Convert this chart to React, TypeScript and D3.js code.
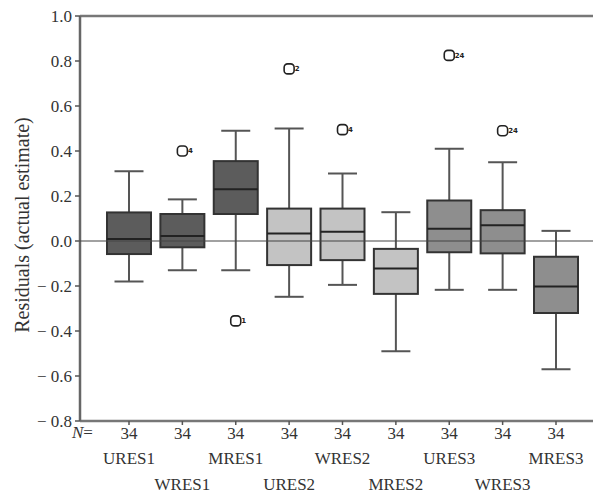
import React from "react";
import * as d3 from "d3";

const categories = ["URES1", "WRES1", "MRES1", "URES2", "WRES2", "MRES2", "URES3", "WRES3", "MRES3"];
const counts = [34, 34, 34, 34, 34, 34, 34, 34, 34];
const lowerWhisker = [-0.18, -0.13, -0.13, -0.248, -0.195, -0.49, -0.217, -0.217, -0.57];
const q1 = [-0.058, -0.028, 0.12, -0.107, -0.085, -0.235, -0.05, -0.055, -0.32];
const medians = [0.009, 0.022, 0.23, 0.033, 0.041, -0.122, 0.055, 0.07, -0.202];
const q3 = [0.127, 0.12, 0.355, 0.144, 0.144, -0.035, 0.18, 0.137, -0.07];
const upperWhisker = [0.31, 0.185, 0.49, 0.5, 0.3, 0.128, 0.41, 0.35, 0.045];
const groupIndex = [0, 0, 0, 1, 1, 1, 2, 2, 2];
const groupFills = ["#5c5c5c", "#c3c3c3", "#8e8e8e"];
const outlierCat = ["WRES1", "MRES1", "URES2", "WRES2", "URES3", "WRES3"];
const outlierVal = [0.4, -0.355, 0.765, 0.495, 0.825, 0.49];
const outlierLabel = ["4", "1", "2", "4", "24", "24"];
const yTicks = [1.0, 0.8, 0.6, 0.4, 0.2, 0.0, -0.2, -0.4, -0.6, -0.8];

const W = 593;
const H = 495;
const left = 80;
const right = 593;
const top = 16;
const bottom = 421;
const font = "'Liberation Serif', 'Times New Roman', serif";

export default function App() {
  const y = d3.scaleLinear().domain([-0.8, 1.0]).range([bottom, top]);
  const x = d3.scalePoint<string>().domain(categories).range([129, 556]);
  const boxW = 44;
  const capW = 29;
  const fmt = (v: number) => (v < 0 ? "\u2212 " + d3.format(".1f")(-v) : d3.format(".1f")(v));

  return (
    <svg width={W} height={H} style={{ position: "absolute", left: 0, top: 0, background: "#fff" }}>
      {/* frame lines */}
      <line x1={left} x2={right} y1={top} y2={top} stroke="#777" strokeWidth={2.5} />
      <line x1={left} x2={right} y1={bottom} y2={bottom} stroke="#777" strokeWidth={2.5} />
      <line x1={left} x2={left} y1={top} y2={bottom} stroke="#666" strokeWidth={2.5} />
      {/* y ticks */}
      {yTicks.map((t) => (
        <g key={t}>
          <line x1={left - 5} x2={left} y1={y(t)} y2={y(t)} stroke="#555" strokeWidth={1.5} />
          <text x={72} y={y(t)} dy="0.35em" textAnchor="end" fontFamily={font} fontSize={17} fill="#333">
            {fmt(t)}
          </text>
        </g>
      ))}
      <text
        transform={`translate(22,${225}) rotate(-90)`}
        textAnchor="middle"
        dy="0.35em"
        fontFamily={font}
        fontSize={20}
        fill="#333"
      >
        Residuals (actual estimate)
      </text>
      {/* boxes */}
      {categories.map((c, i) => {
        const cx = x(c)!;
        return (
          <g key={c}>
            <line x1={cx} x2={cx} y1={y(upperWhisker[i])} y2={y(q3[i])} stroke="#555" strokeWidth={2} />
            <line x1={cx} x2={cx} y1={y(q1[i])} y2={y(lowerWhisker[i])} stroke="#555" strokeWidth={2} />
            <line x1={cx - capW / 2} x2={cx + capW / 2} y1={y(upperWhisker[i])} y2={y(upperWhisker[i])} stroke="#555" strokeWidth={2} />
            <line x1={cx - capW / 2} x2={cx + capW / 2} y1={y(lowerWhisker[i])} y2={y(lowerWhisker[i])} stroke="#555" strokeWidth={2} />
            <rect
              x={cx - boxW / 2}
              y={y(q3[i])}
              width={boxW}
              height={y(q1[i]) - y(q3[i])}
              fill={groupFills[groupIndex[i]]}
              stroke="#333"
              strokeWidth={2}
            />
            <line x1={cx - boxW / 2} x2={cx + boxW / 2} y1={y(medians[i])} y2={y(medians[i])} stroke="#222" strokeWidth={2} />
          </g>
        );
      })}
      {/* zero line */}
      <line x1={left} x2={right} y1={y(0)} y2={y(0)} stroke="#444" strokeWidth={1.2} />
      {/* outliers */}
      {outlierCat.map((c, i) => {
        const cx = x(c)!;
        const cy = y(outlierVal[i]);
        return (
          <g key={c + i}>
            <rect x={cx - 5} y={cy - 5} width={10} height={10} rx={3.5} fill="#fff" stroke="#222" strokeWidth={1.6} />
            <text x={cx + 5.5} y={cy} dy="0.35em" fontFamily="'DejaVu Sans', sans-serif" fontSize={7} fontWeight="bold" fill="#222">
              {outlierLabel[i]}
            </text>
          </g>
        );
      })}
      {/* bottom ticks and labels */}
      <text x={72} y={438} fontFamily={font} fontSize={17} fontStyle="italic" fill="#333">
        N
        <tspan fontStyle="normal">=</tspan>
      </text>
      {categories.map((c, i) => {
        const cx = x(c)!;
        return (
          <g key={"b" + c}>
            <line x1={cx} x2={cx} y1={bottom} y2={bottom + 4} stroke="#555" strokeWidth={1.5} />
            <text x={cx} y={439} textAnchor="middle" fontFamily={font} fontSize={17} fill="#333">
              {counts[i]}
            </text>
            <text x={cx} y={i % 2 === 0 ? 464 : 490} textAnchor="middle" fontFamily={font} fontSize={17} fill="#333">
              {c}
            </text>
          </g>
        );
      })}
    </svg>
  );
}
